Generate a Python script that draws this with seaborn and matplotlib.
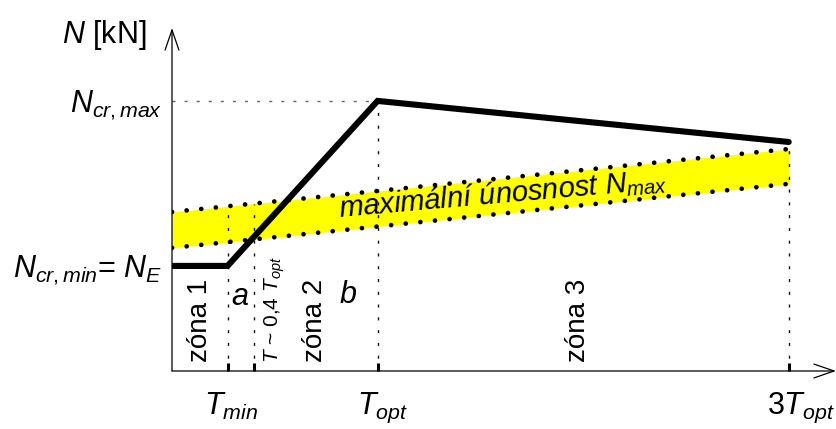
import numpy as np
import pandas as pd
import matplotlib
matplotlib.use("Agg")
import matplotlib.pyplot as plt
import matplotlib.transforms as mtransforms
import seaborn as sns

# ---- data (x in units of T_opt, N normalised to N_cr,max) ----
curve_T = [0.0, 0.27, 1.0, 3.0]
curve_N = [0.389, 0.389, 1.0, 0.848]
band_T = [0.0, 3.0]
band_upper = [0.589, 0.822]
band_lower = [0.456, 0.693]
tick_T = [0.27, 0.4, 1.0, 3.0]
tick_labels = [r"$T_{min}$", "", r"$T_{opt}$", r"3$T_{opt}$"]
ytick_N = [0.389, 1.0]
ytick_labels = [r"$N_{cr,min}$= $N_E$", r"$N_{cr,max}$"]
zone_labels = ["zóna 1", "zóna 2", "zóna 3"]

sns.set_style("white")
plt.rcParams["font.family"] = ["Liberation Sans", "DejaVu Sans"]
plt.rcParams["mathtext.fontset"] = "custom"
plt.rcParams["mathtext.rm"] = "Liberation Sans"
plt.rcParams["mathtext.it"] = "Liberation Sans:italic"
plt.rcParams["mathtext.bf"] = "Liberation Sans:bold"
plt.rcParams["text.color"] = "black"
plt.rcParams["xtick.color"] = "black"
plt.rcParams["ytick.color"] = "black"

W, H = 836, 429
fig = plt.figure(figsize=(W / 100, H / 100), dpi=100)
x0, y0, x1, y1 = 172, 371, 836, 28
ax = fig.add_axes([x0 / W, (H - y0) / H, (x1 - x0) / W, (y0 - y1) / H])
ax.set_xlim(0, 3.23)
ax.set_ylim(0, 1.27)
for s in ax.spines.values():
    s.set_visible(False)

# yellow band
ax.fill_between(band_T, band_lower, band_upper, color="#ffff00", lw=0, zorder=1)
dot_style = dict(color="black", lw=3.4, dashes=(0.01, 3.1), dash_capstyle="round", zorder=3)
sns.lineplot(x=band_T, y=band_upper, ax=ax, **dot_style)
sns.lineplot(x=band_T, y=band_lower, ax=ax, **dot_style)

# helper lines
vstyle = dict(color="#111111", lw=1.0, ls=(0, (2.2, 7)), zorder=2)
top_band = np.interp(tick_T[:2], band_T, band_upper)
ax.vlines(tick_T[:2], 0, top_band, **vstyle)
ax.vlines(tick_T[2:], 0, [curve_N[2], curve_N[3]], **vstyle)
ax.hlines(curve_N[2], 0, curve_T[2], color="#666666", lw=1.0, ls=(0, (2.2, 6.5)), zorder=2)

# main curve
df = pd.DataFrame({"T": curve_T, "N": curve_N})
sns.lineplot(data=df, x="T", y="N", ax=ax, color="black", lw=4.4, sort=False,
             estimator=None, solid_capstyle="round", solid_joinstyle="miter", zorder=4)

# axes arrows
arr = dict(arrowstyle="->,head_length=1.45,head_width=0.5", lw=0.9, color="black",
           shrinkA=0, shrinkB=0)
ax.annotate("", xy=(0, 1), xytext=(0, 0), xycoords="axes fraction", arrowprops=arr, annotation_clip=False)
ax.annotate("", xy=(1.0, 0), xytext=(0, 0), xycoords="axes fraction", arrowprops=arr, annotation_clip=False)

# ticks
ax.set_xticks(tick_T, tick_labels)
ax.tick_params(axis="x", direction="in", length=6, width=2.2, pad=14, labelsize=22, bottom=True)
shifts = [4, 0, 5, 12]
for lab, dx in zip(ax.get_xticklabels(), shifts):
    lab.set_transform(lab.get_transform() + mtransforms.ScaledTranslation(dx / 100, 0, fig.dpi_scale_trans))
ax.set_yticks(ytick_N, ytick_labels)
ax.tick_params(axis="y", length=0, pad=7, labelsize=22, left=True)
ax.set_xlabel("")
ax.set_ylabel("")
fig.text(62 / W, 1 - 43 / H, r"$N$ [kN]", fontsize=22, ha="left", va="baseline")

# zone texts
def px(xp, yp):
    return ((xp - x0) / 205.5, (y0 - yp) / 270.0)

for lab, xp in zip(zone_labels, [200, 315, 578]):
    ax.text(*px(xp, 362), lab, rotation=90, ha="center", va="bottom", fontsize=20)
ax.text(*px(275, 363), r"$T$ ~ 0,4 $T_{opt}$", rotation=90, ha="center", va="bottom", fontsize=15)
ax.text(*px(240, 297), "a", style="italic", ha="center", va="center", fontsize=22)
ax.text(*px(348, 295), "b", style="italic", ha="center", va="center", fontsize=22)
ax.text(*px(503, 194), r"maximální únosnost $N_{max}$", style="italic", rotation=5.0,
        rotation_mode="anchor", ha="center", va="center", fontsize=21, zorder=5)

fig.savefig("out.png", dpi=100)
